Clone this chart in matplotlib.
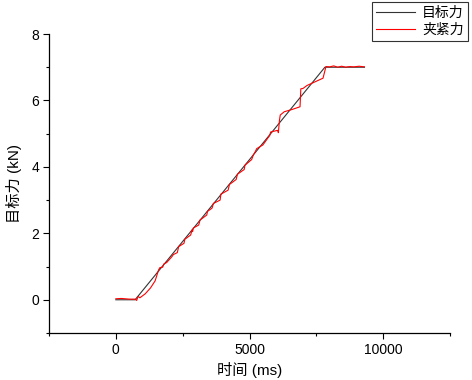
import matplotlib
matplotlib.use("Agg")
import matplotlib.pyplot as plt
import matplotlib.ticker as mticker

plt.rcParams['font.family'] = ['Liberation Sans', 'Noto Sans CJK SC', 'DejaVu Sans']

# target force (kN) vs time (ms)
target_t = [0, 720, 7820, 9300]
target_f = [0.0, 0.0, 7.0, 7.0]

# measured clamping force (kN) vs time (ms)
clamp_t = [0, 200, 500, 720, 780, 830, 900, 1100, 1300, 1470, 1600, 1650, 1750,
           1800, 1900, 2100, 2150, 2300, 2350, 2550, 2580, 2800, 2850, 2870, 2900,
           3100, 3150, 3400, 3430, 3600, 3650, 3900, 3930, 4200, 4250, 4500, 4550,
           4800, 4830, 5080, 5150, 5210, 5270, 5500, 5760, 5790, 6050, 6080, 6120,
           6150, 6300, 6600, 6890, 6920, 7000, 7150, 7750, 7860, 8000, 8150, 8300,
           8450, 8600, 8750, 8900, 9100, 9300]
clamp_f = [0.03, 0.04, 0.02, 0.02, -0.02, 0.10, 0.06, 0.18, 0.36, 0.57, 0.90, 0.97, 0.98,
           1.08, 1.12, 1.30, 1.36, 1.42, 1.60, 1.70, 1.82, 1.95, 2.10, 2.05, 2.16,
           2.25, 2.40, 2.55, 2.66, 2.76, 2.90, 3.00, 3.18, 3.30, 3.47, 3.62, 3.78,
           3.92, 4.05, 4.22, 4.37, 4.45, 4.55, 4.66, 4.95, 5.05, 5.10, 5.03, 5.40,
           5.56, 5.66, 5.73, 5.81, 6.35, 6.36, 6.45, 6.67, 7.02, 7.01, 7.04, 7.00,
           7.03, 7.00, 7.02, 7.01, 7.03, 7.01]

fig = plt.figure(figsize=(4.72, 3.80), dpi=100)
ax = fig.add_axes([49/472, 47/380, 401/472, 299/380])

ax.plot(target_t, target_f, color='#333333', lw=0.8, label='目标力')
ax.plot(clamp_t, clamp_f, color='#ff0000', lw=0.8, label='夹紧力')

ax.set_xlim(-2500, 12500)
ax.set_ylim(-1, 8)
ax.xaxis.set_major_locator(mticker.MultipleLocator(5000))
ax.xaxis.set_minor_locator(mticker.MultipleLocator(2500))
ax.yaxis.set_major_locator(mticker.MultipleLocator(2))
ax.yaxis.set_minor_locator(mticker.MultipleLocator(1))
ax.tick_params(which='major', direction='out', length=4, width=0.8, labelsize=10, pad=3)
ax.tick_params(which='minor', direction='out', length=2.5, width=0.8)

for s in ['top', 'right']:
    ax.spines[s].set_visible(False)
for s in ['left', 'bottom']:
    ax.spines[s].set_linewidth(0.9)

ax.set_xlabel('时间 (ms)', fontsize=11, labelpad=4)
ax.set_ylabel('目标力 (kN)', fontsize=11, labelpad=7)

leg = fig.legend(loc='upper right', bbox_to_anchor=(468/472, 1 - 2/380), fontsize=10,
                 frameon=True, fancybox=False, borderaxespad=0, handlelength=2.8,
                 handletextpad=0.5, borderpad=0.3, labelspacing=0.2)
leg.get_frame().set_edgecolor('black')
leg.get_frame().set_linewidth(0.8)

fig.savefig('out.png', dpi=100)
